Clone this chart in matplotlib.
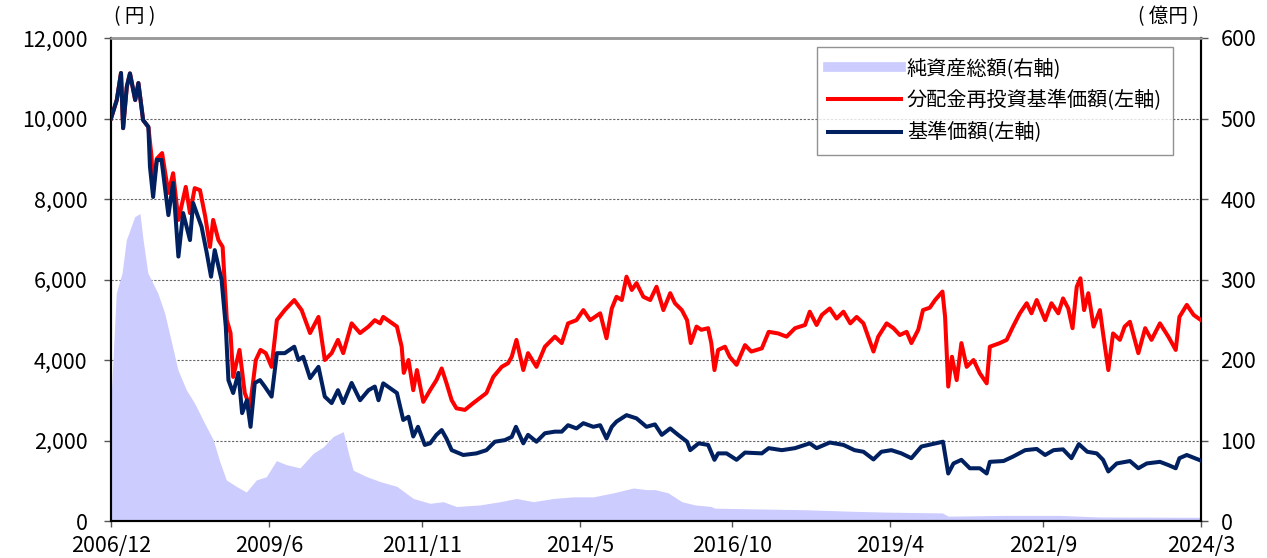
import matplotlib
matplotlib.use("Agg")
import matplotlib.pyplot as plt
from matplotlib.lines import Line2D
from matplotlib.ticker import StrMethodFormatter

plt.rcParams['font.family'] = ['Noto Sans CJK JP', 'DejaVu Sans']

# months elapsed since 2006/12 for each reading
t_nav = [0, 1.1, 1.9, 2.3, 3.0, 3.6, 4.6, 5.2, 6.1, 7.1, 7.4, 8.0, 8.7, 9.6, 10.9, 11.8,
         12.8, 13.7, 15.0, 15.6, 17.2, 18.2, 19.0, 19.7, 21.0, 21.8, 22.3, 23.2, 24.2,
         24.9, 25.8, 26.5, 27.3, 28.3, 29.2, 30.5, 31.5, 33.0, 34.8, 35.6, 36.5, 37.8,
         39.4, 40.6, 41.9, 43.1, 44.1, 45.7, 47.3, 48.9, 50.1, 50.8, 51.7, 54.3, 55.5,
         56.5, 57.4, 58.3, 59.6, 60.6, 61.8, 62.8, 63.7, 64.7, 66.9, 69.4, 71.3, 72.9,
         74.8, 76.1, 76.9, 78.3, 79.2, 80.8, 82.4, 84.3, 85.6, 86.8, 88.4, 89.7, 91.6,
         92.9, 94.1, 95.1, 96.0, 97.9, 99.8, 101.7, 103.3, 104.6, 106.2, 107.7, 109.4,
         110.0, 111.6, 113.4, 114.6, 115.3, 116.9, 118.8, 120.4, 123.6, 124.9, 127.4,
         129.9, 132.7, 134.0, 136.5, 139.1, 141.2, 142.9, 144.8, 146.3, 148.2, 150.1,
         152.0, 153.9, 155.6, 158.0, 159.0, 160.0, 161.5, 163.1, 165.0, 166.3, 166.9,
         169.5, 171.3, 173.6, 175.8, 177.4, 179.0, 180.8, 182.4, 183.8, 185.4, 187.2,
         188.4, 189.4, 191.0, 193.5, 195.1, 196.7, 199.2, 200.8, 202.2, 202.9, 204.3, 207.0]
nav = [10000, 10460, 11130, 9760, 10790, 11120, 10460, 10880, 9960, 9790, 8800, 8050, 8970,
       8970, 7600, 8400, 6570, 7650, 6980, 7900, 7310, 6650, 6070, 6730, 5990, 4830, 3500,
       3180, 3680, 2680, 3000, 2340, 3430, 3500, 3340, 3090, 4170, 4170, 4330, 4000, 4080,
       3550, 3830, 3090, 2930, 3250, 2930, 3430, 3000, 3250, 3340, 3000, 3420, 3180, 2510,
       2590, 2100, 2340, 1890, 1930, 2140, 2260, 2050, 1760, 1640, 1680, 1760, 1970, 2010,
       2090, 2340, 1930, 2140, 1970, 2180, 2220, 2220, 2380, 2300, 2430, 2340, 2380, 2050,
       2340, 2470, 2630, 2550, 2340, 2400, 2140, 2300, 2140, 1970, 1760, 1930, 1890, 1520,
       1680, 1680, 1520, 1700, 1680, 1810, 1760, 1810, 1930, 1810, 1950, 1890, 1760, 1720,
       1530, 1720, 1760, 1680, 1560, 1850, 1900, 1970, 1180, 1430, 1520, 1310, 1310, 1180,
       1470, 1490, 1600, 1760, 1790, 1640, 1760, 1780, 1560, 1910, 1720, 1680, 1520, 1230,
       1430, 1490, 1310, 1430, 1470, 1390, 1310, 1560, 1640, 1500]

t_reinv = [0, 1.1, 1.9, 2.3, 3.0, 3.6, 4.6, 5.2, 6.1, 7.1, 7.7, 8.0, 8.7, 9.7, 10.9, 11.8,
           12.8, 14.2, 15.0, 15.9, 16.9, 17.9, 18.8, 19.4, 20.4, 21.2, 22.0, 22.7, 23.2,
           24.4, 25.4, 26.4, 27.5, 28.4, 29.4, 30.5, 31.5, 33.0, 34.8, 36.2, 37.8, 39.4,
           40.6, 41.9, 43.1, 44.1, 45.7, 47.3, 48.9, 50.1, 51.1, 51.7, 54.3, 55.2, 55.6,
           56.5, 57.4, 58.1, 59.3, 60.6, 61.8, 62.8, 63.7, 64.7, 65.6, 67.2, 68.8, 70.4,
           71.3, 72.6, 74.2, 75.4, 76.1, 77.0, 78.3, 79.2, 80.8, 82.4, 84.3, 85.6, 86.8,
           88.4, 89.7, 91.0, 92.9, 94.1, 95.1, 96.0, 97.0, 97.9, 98.9, 99.8, 101.1, 102.4,
           103.6, 104.9, 106.2, 107.1, 108.4, 109.4, 110.1, 111.2, 112.1, 113.4, 114.0,
           114.6, 115.3, 116.6, 117.5, 118.8, 120.4, 121.6, 123.6, 124.9, 126.7, 128.3,
           129.9, 131.8, 132.7, 134.0, 135.0, 136.5, 137.8, 139.1, 140.4, 141.6, 142.9,
           143.8, 144.8, 145.7, 147.3, 148.6, 149.8, 151.1, 152.0, 153.3, 154.2, 155.5,
           156.5, 157.9, 158.4, 159.0, 159.7, 160.6, 161.5, 162.5, 163.8, 165.0, 166.3,
           166.9, 168.8, 170.1, 171.3, 172.6, 173.9, 174.8, 175.8, 177.4, 178.6, 179.9,
           180.8, 181.8, 182.6, 183.4, 184.1, 184.8, 185.6, 186.6, 187.8, 188.4, 189.4,
           190.3, 191.6, 192.5, 193.5, 195.1, 196.4, 197.6, 199.2, 200.8, 202.2, 202.9,
           204.3, 205.6, 207.0]
reinv = [10000, 10460, 11130, 9760, 10790, 11120, 10460, 10880, 9960, 9790, 9050, 8250,
         9000, 9140, 8150, 8640, 7480, 8300, 7650, 8270, 8220, 7560, 6810, 7480, 6980, 6810,
         4990, 4670, 3580, 4250, 3180, 2840, 4000, 4250, 4170, 3830, 4990, 5240, 5490, 5240,
         4670, 5070, 4000, 4170, 4500, 4170, 4910, 4670, 4830, 4990, 4910, 5070, 4830, 4330,
         3680, 4000, 3250, 3750, 2960, 3250, 3500, 3790, 3430, 3000, 2800, 2760, 2930, 3090,
         3180, 3580, 3830, 3920, 4080, 4500, 3750, 4170, 3830, 4330, 4580, 4420, 4910, 4990,
         5240, 4990, 5160, 4540, 5280, 5570, 5490, 6070, 5740, 5910, 5570, 5490, 5820, 5240,
         5660, 5410, 5240, 4990, 4420, 4830, 4750, 4790, 4420, 3750, 4250, 4330, 4080, 3880,
         4370, 4210, 4290, 4700, 4660, 4580, 4790, 4870, 5200, 4870, 5120, 5280, 5030, 5200,
         4910, 5070, 4910, 4580, 4210, 4580, 4910, 4790, 4620, 4700, 4420, 4750, 5240, 5300,
         5490, 5700, 5070, 3340, 4080, 3500, 4420, 3830, 4000, 3670, 3420, 4330, 4420, 4500,
         4830, 5160, 5410, 5160, 5490, 4990, 5410, 5160, 5530, 5280, 4790, 5820, 6030, 5240,
         5660, 4830, 5240, 4660, 3750, 4660, 4500, 4830, 4950, 4170, 4790, 4500, 4910, 4580,
         4250, 5070, 5370, 5120, 4990]

t_aum = [0, 1.0, 2.1, 2.9, 4.5, 5.5, 6.1, 7.0, 8.9, 10.2, 11.1, 12.7, 14.3, 15.9, 17.5,
         19.4, 20.6, 21.9, 23.8, 25.7, 27.6, 29.5, 31.4, 33.3, 35.9, 38.4, 40.3, 42.2,
         44.1, 45.1, 46.0, 48.6, 51.1, 54.3, 57.4, 60.6, 63.1, 65.6, 70.1, 73.9, 77.0,
         80.2, 84.0, 87.8, 91.6, 95.4, 99.2, 101.7, 103.3, 105.8, 108.4, 110.9, 114.0,
         114.6, 122.3, 131.8, 141.2, 147.6, 157.9, 159.0, 170.0, 180.0, 187.8, 207.0]
aum = [150, 283, 308, 349, 378, 382, 349, 308, 283, 258, 233, 188, 163, 146, 125, 101, 75,
       51, 43, 36, 51, 55, 75, 70, 66, 84, 92, 105, 111, 84, 63, 55, 49, 43, 28, 22, 24,
       18, 20, 24, 28, 24, 28, 30, 30, 35, 41, 39, 39, 35, 24, 20, 18, 16, 15, 14, 12, 11,
       10, 6, 7, 7, 5, 4.6]

xtick_labels = ['2006/12', '2009/6', '2011/11', '2014/5', '2016/10', '2019/4', '2021/9', '2024/3']
left_ticks = [0, 2000, 4000, 6000, 8000, 10000, 12000]
right_ticks = [0, 100, 200, 300, 400, 500, 600]

label_aum = '純資産総額(右軸)'
label_reinv = '分配金再投資基準価額(左軸)'
label_nav = '基準価額(左軸)'

RED = '#FF0000'
NAVY = '#002060'
LAV = '#CCCCFF'

fig = plt.figure(figsize=(12.67, 5.58), dpi=100)
ax = fig.add_axes([111 / 1267, 37 / 558, 1090 / 1267, 483 / 558])
ax2 = ax.twinx()

# area + grid on the lower (right-scale) axes, lines on top
ax2.fill_between(t_aum, aum, 0, color=LAV, lw=0, zorder=2)
ax2.set_ylim(0, 600)
ax2.set_yticks(right_ticks)
ax2.yaxis.grid(True, color='#666666', ls=(0, (2, 1.5)), lw=0.8, zorder=1)
ax2.set_axisbelow(True)

ax.plot(t_reinv, reinv, color=RED, lw=2.9, zorder=3)
ax.plot(t_nav, nav, color=NAVY, lw=2.9, zorder=4)
ax.set_ylim(0, 12000)
ax.set_yticks(left_ticks)
ax.yaxis.set_major_formatter(StrMethodFormatter('{x:,.0f}'))

ax.set_zorder(ax2.get_zorder() + 1)
ax.patch.set_visible(False)

xt = [(int(s.split('/')[0]) - 2006) * 12 + int(s.split('/')[1]) - 12 for s in xtick_labels]
ax.set_xticks(xt)
ax.set_xticklabels(xtick_labels)
ax.set_xlim(0, 207)

ax.tick_params(axis='y', direction='out', length=5, width=1, pad=12, labelsize=15.5, color='#555555')
ax.tick_params(axis='x', direction='out', length=4, width=1, pad=6, labelsize=15.5, color='#555555')
ax2.tick_params(axis='y', direction='out', length=5, width=1, pad=9, labelsize=15.5, color='#555555')

for a in (ax, ax2):
    for s in ('left', 'right', 'bottom'):
        a.spines[s].set_color('black')
        a.spines[s].set_linewidth(1.5)
    a.spines['top'].set_color('#999999')
    a.spines['top'].set_linewidth(1.8)

fig.text(135 / 1267, 1 - 17 / 558, '( 円 )', ha='center', va='center', fontsize=14)
fig.text(1168 / 1267, 1 - 17 / 558, '( 億円 )', ha='center', va='center', fontsize=14)

handles = [Line2D([], [], color=LAV, lw=7),
           Line2D([], [], color=RED, lw=2.9),
           Line2D([], [], color=NAVY, lw=2.9)]
leg = ax.legend(handles, [label_aum, label_reinv, label_nav], loc='upper right',
                bbox_to_anchor=(1173 / 1267, 1 - 47 / 558), bbox_transform=fig.transFigure,
                fontsize=14.5, frameon=True, fancybox=False, handlelength=3.6,
                handletextpad=0.3, labelspacing=0.55, borderpad=0.55, borderaxespad=0)
leg.get_frame().set_edgecolor('#777777')
leg.get_frame().set_linewidth(1.0)

fig.savefig('out.png', dpi=100)
